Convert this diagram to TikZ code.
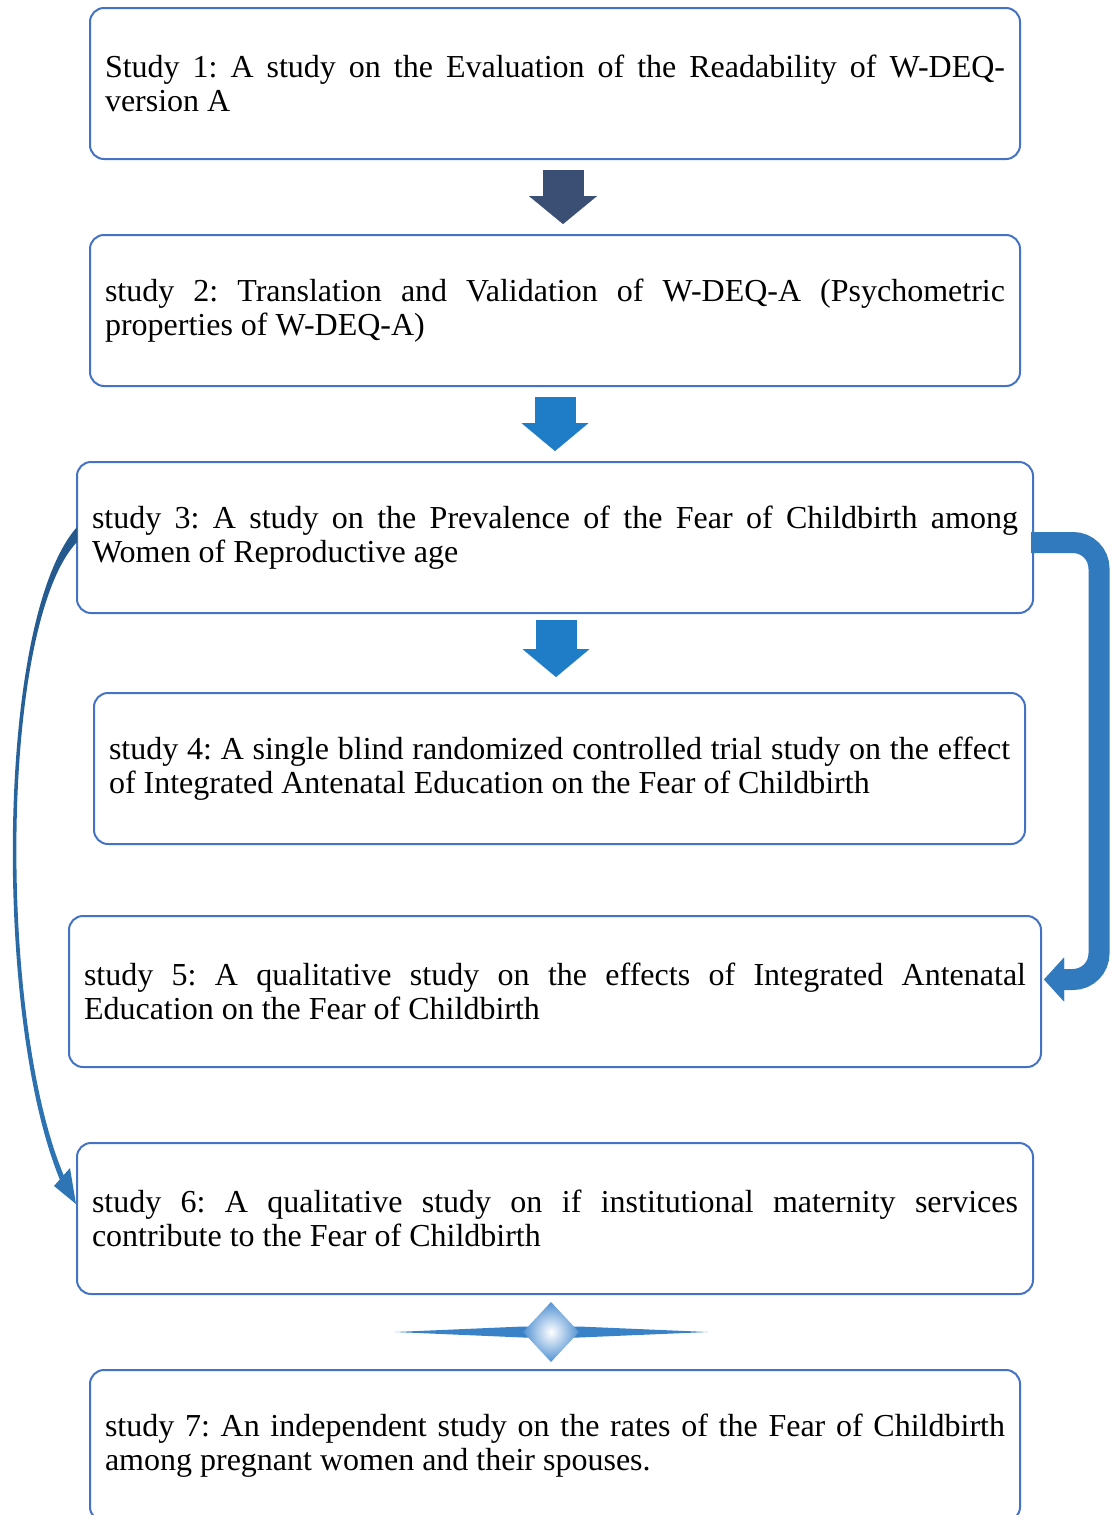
\documentclass[tikz,border=0pt]{standalone}
\usepackage{fontspec}
\setmainfont{Liberation Serif}
\usetikzlibrary{arrows.meta,calc}
\definecolor{boxBlue}{RGB}{68,114,196}
\definecolor{navyArrow}{RGB}{59,78,116}
\definecolor{blueArrow}{RGB}{31,125,200}
\definecolor{bentBlue}{RGB}{50,122,190}
\definecolor{curveTop}{RGB}{36,88,140}
\definecolor{curveMid}{RGB}{215,230,245}
\definecolor{curveBot}{RGB}{46,117,182}
\definecolor{spindleBlue}{RGB}{58,130,200}
\definecolor{diamondBlue}{RGB}{80,145,210}
\hyphenpenalty=10000
\tolerance=9999
\frenchspacing
\begin{document}
\begin{tikzpicture}[x=1pt,y=1pt,yscale=-1,xscale=1,
  studyBox/.style={draw=boxBlue, line width=2pt, rounded corners=14pt, fill=white,
    minimum height=151pt, inner xsep=15pt, inner ysep=0pt, align=justify,
    font=\fontsize{32}{34}\selectfont},
  blockNavy/.style={draw=navyArrow, line width=41pt,
    -{Triangle[length=28pt,width=68pt,line width=0.01pt]}},
  blockBlue/.style={draw=blueArrow, line width=41pt,
    -{Triangle[length=28pt,width=67pt,line width=0.01pt]}},
  bentArrow/.style={draw=bentBlue, line width=21pt, rounded corners=26pt,
    -{Triangle[length=20pt,width=44pt,line width=0.01pt]}}]
	\useasboundingbox (0,0) rectangle (1111,1515);
	
	%Rounded Rect [study 1] 
	\node (s1) [studyBox, text width=900pt] at (555,83.5) {Study 1: A study on the Evaluation of the Readability of W-DEQ-\linebreak version A};
	%Rounded Rect [study 2] 
	\node (s2) [studyBox, text width=900pt] at (555,310.5) {study 2: Translation and Validation of W-DEQ-A (Psychometric\linebreak properties of W-DEQ-A)};
	%Rounded Rect [study 3] 
	\node (s3) [studyBox, text width=926pt] at (555,537.5) {study 3: A study on the Prevalence of the Fear of Childbirth among\linebreak Women of Reproductive age};
	%Rounded Rect [study 4] 
	\node (s4) [studyBox, text width=901pt] at (559.5,768.5) {study 4: A single blind randomized controlled trial study on the effect\linebreak of Integrated Antenatal Education on the Fear of Childbirth};
	%Rounded Rect [study 5] 
	\node (s5) [studyBox, text width=942pt] at (555,991.5) {study 5: A qualitative study on the effects of Integrated Antenatal\linebreak Education on the Fear of Childbirth};
	%Rounded Rect [study 6] 
	\node (s6) [studyBox, text width=926pt] at (555,1218.5) {study 6: A qualitative study on if institutional maternity services\linebreak contribute to the Fear of Childbirth};
	%Rounded Rect [study 7] 
	\node (s7) [studyBox, text width=900pt] at (555,1445.5) {study 7: An independent study on the rates of the Fear of Childbirth\linebreak among pregnant women and their spouses.};
	
	%Block Arrows 
	\draw [blockNavy] ($(s1.south)+(8,10)$) -- ($(s2.north)+(8,-10)$);
	\draw [blockBlue] ($(s2.south)+(0,10)$) -- ($(s3.north)+(0,-10)$);
	\draw [blockBlue] ($(s3.south)+(1,6)$) -- ($(s4.north)+(-3.5,-15)$);
	
	%Bent Arrow [study 3 to study 5] 
	\draw [bentArrow] ($(s3.east)+(-3,5)$) -| ($(s5.east)+(57,-12)$) -- ($(s5.east)+(2,-12)$);
	
	%Curved Arrow [study 3 to study 6] 
	\shade [top color=curveTop, middle color=curveMid, bottom color=curveBot]
	  ($(s3.west)+(1,-10.5)$) .. controls (-5,620) and (-6,1020) .. (60,1180)
	  -- (64,1176) .. controls (-2,1020) and (-1,625) .. ($(s3.west)+(1,4.5)$) -- cycle;
	\fill [curveBot] ($(s6.west)+(0,-14.5)$) -- (70,1168) -- (54,1186) -- cycle;
	
	%Ornament [between study 6 and study 7] 
	\coordinate (orn) at ($(s6.south)!0.5!(s7.north)+(-4,0)$);
	\fill [spindleBlue] ($(orn)+(-156,0)$) -- ($(orn)+(-28,-5.5)$) -- ($(orn)+(28,-5.5)$)
	  -- ($(orn)+(157,0)$) -- ($(orn)+(28,5.5)$) -- ($(orn)+(-28,5.5)$) -- cycle;
	\shade [inner color=white, outer color=diamondBlue] ($(orn)+(0,-30)$) -- ($(orn)+(28,0)$)
	  -- ($(orn)+(0,30)$) -- ($(orn)+(-28,0)$) -- cycle;
	
\end{tikzpicture}
\end{document}
